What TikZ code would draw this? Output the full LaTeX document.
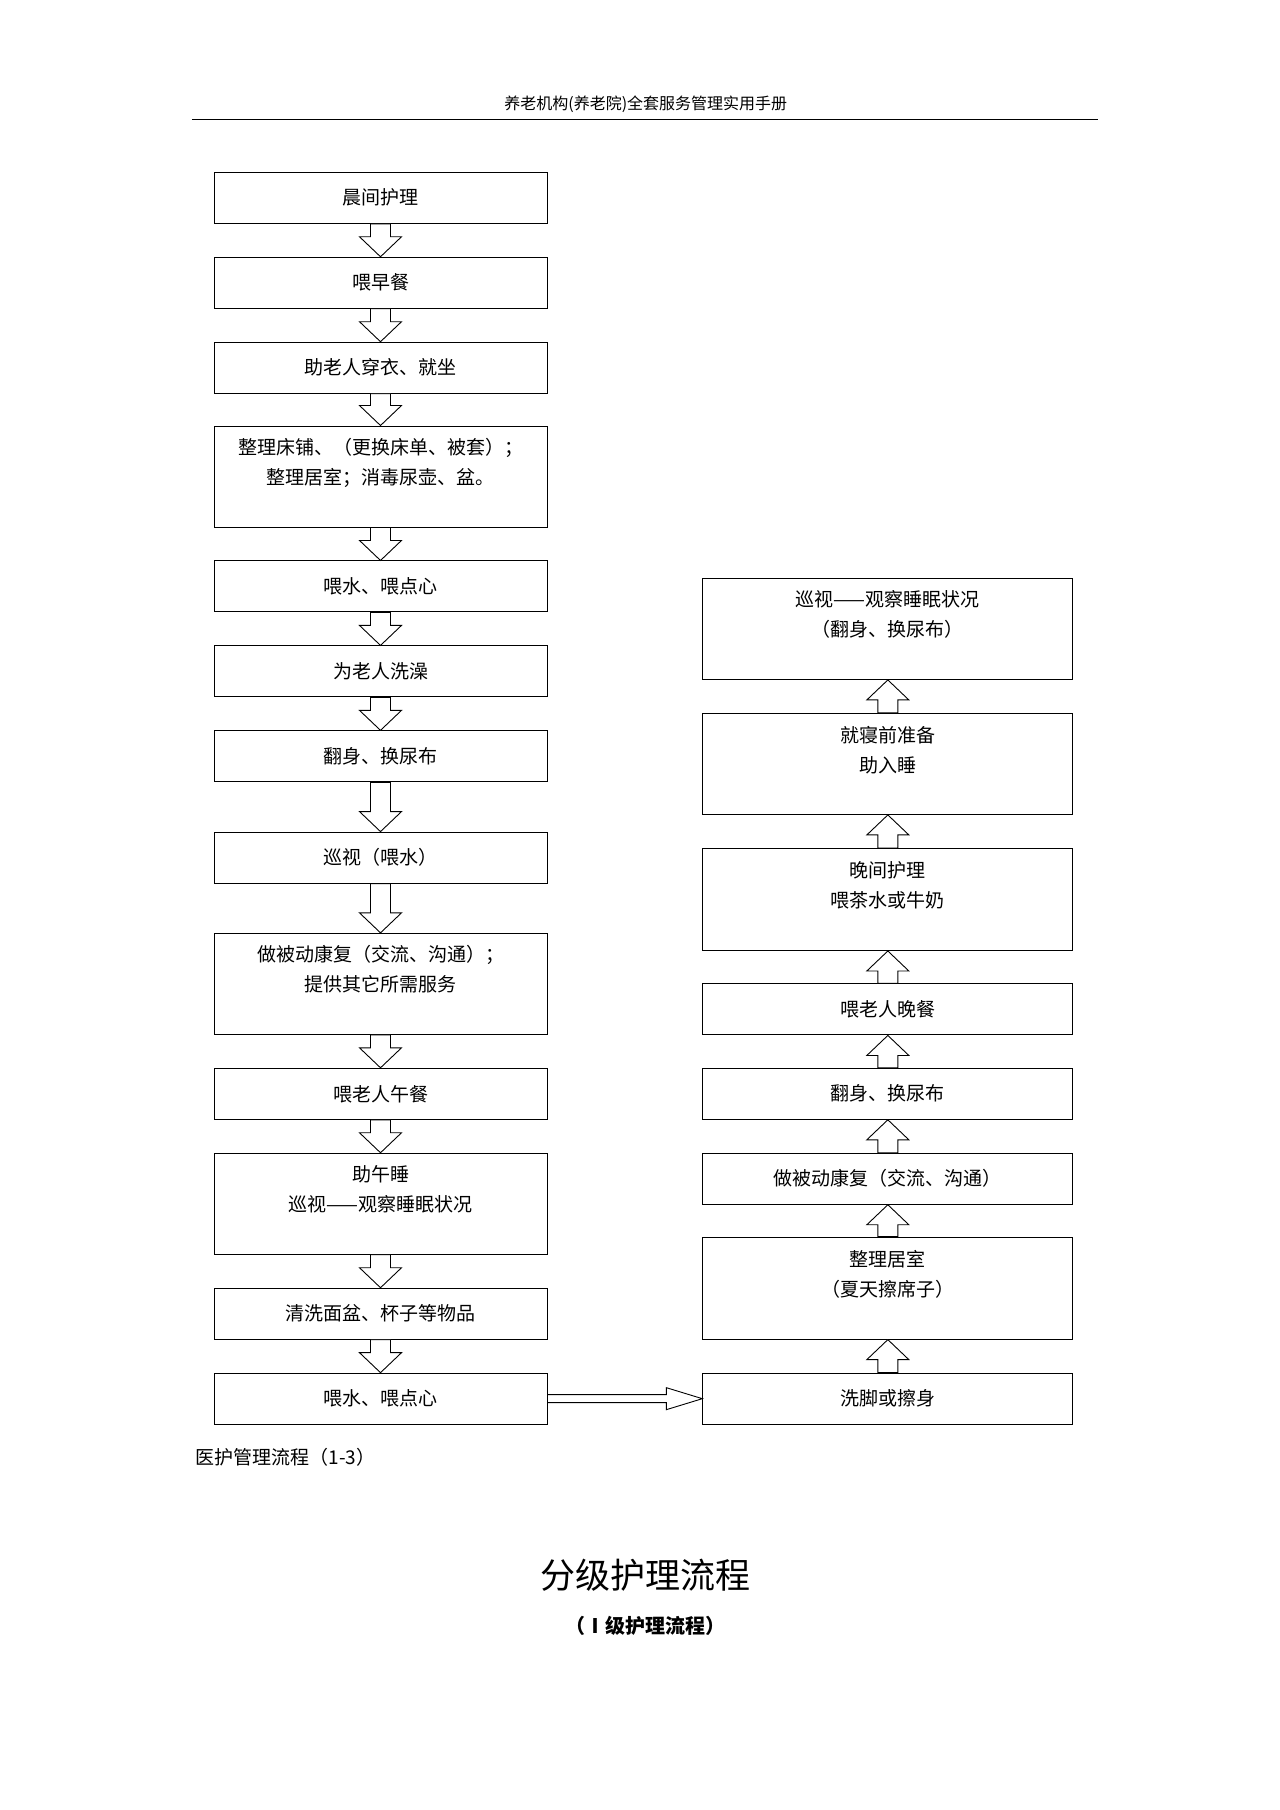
\documentclass[tikz,border=0pt]{standalone}
\usepackage{fontspec}
\setmainfont{Noto Sans CJK SC}
\usetikzlibrary{calc}
\tikzset{box/.style={draw,line width=1pt,align=center,font=\fontsize{19}{30}\selectfont,inner sep=0pt},
 lb/.style={box,minimum width=333pt},rb/.style={box,minimum width=370pt},
 hol/.style={draw,line width=0.9pt,fill=white}}
\newcommand\harrowd[2]{\draw[hol] let \p1=(#1.south),\p2=(#2.north) in
 (\x1-10pt,\y1)--(\x1+10pt,\y1)--(\x1+10pt,\y2+20pt)--(\x1+21pt,\y2+20pt)--(\x1,\y2)--(\x1-21pt,\y2+20pt)--(\x1-10pt,\y2+20pt)--cycle;}
\newcommand\harrowu[2]{\draw[hol] let \p1=(#1.north),\p2=(#2.south) in
 (\x1-10pt,\y1)--(\x1+10pt,\y1)--(\x1+10pt,\y2-20pt)--(\x1+21pt,\y2-20pt)--(\x1,\y2)--(\x1-21pt,\y2-20pt)--(\x1-10pt,\y2-20pt)--cycle;}
\begin{document}
\begin{tikzpicture}[x=1.1636pt,y=-1.1636pt]
\useasboundingbox (0,0) rectangle (1100,1555.5);
\node[font=\fontsize{16}{18}\selectfont] (hd) at (555,90) {养老机构(养老院)全套服务管理实用手册};
\draw[line width=1pt] (165,103) -- (944,103);
\def\L{327}\def\R{763}
\node[lb,minimum height=51pt] (l1) at (\L,170) {晨间护理};
\node[lb,minimum height=51pt] (l2) at (\L,243) {喂早餐};
\node[lb,minimum height=51pt] (l3) at (\L,316) {助老人穿衣、就坐};
\node[lb,minimum height=101pt,text depth=30pt] (l4) at (\L,409.5) {整理床铺、（更换床单、被套）；\\整理居室；消毒尿壶、盆。};
\node[lb,minimum height=51pt] (l5) at (\L,504) {喂水、喂点心};
\node[lb,minimum height=51pt] (l6) at (\L,577) {为老人洗澡};
\node[lb,minimum height=51pt] (l7) at (\L,650) {翻身、换尿布};
\node[lb,minimum height=51pt] (l8) at (\L,737) {巡视（喂水）};
\node[lb,minimum height=101pt,text depth=30pt] (l9) at (\L,845.5) {做被动康复（交流、沟通）；\\提供其它所需服务};
\node[lb,minimum height=51pt] (l10) at (\L,940) {喂老人午餐};
\node[lb,minimum height=101pt,text depth=30pt] (l11) at (\L,1034.5) {助午睡\\巡视——观察睡眠状况};
\node[lb,minimum height=51pt] (l12) at (\L,1129) {清洗面盆、杯子等物品};
\node[lb,minimum height=51pt] (l13) at (\L,1202) {喂水、喂点心};
\node[rb,minimum height=51pt] (r1) at (\R,1202) {洗脚或擦身};
\node[rb,minimum height=102pt,text depth=30pt] (r2) at (\R,1107) {整理居室\\（夏天擦席子）};
\node[rb,minimum height=51pt] (r3) at (\R,1013) {做被动康复（交流、沟通）};
\node[rb,minimum height=51pt] (r4) at (\R,940) {翻身、换尿布};
\node[rb,minimum height=51pt] (r5) at (\R,867.5) {喂老人晚餐};
\node[rb,minimum height=102pt,text depth=30pt] (r6) at (\R,773) {晚间护理\\喂茶水或牛奶};
\node[rb,minimum height=101pt,text depth=30pt] (r7) at (\R,656.5) {就寝前准备\\助入睡};
\node[rb,minimum height=101pt,text depth=30pt] (r8) at (\R,540.5) {巡视——观察睡眠状况\\（翻身、换尿布）};
\foreach \a/\b in {l1/l2,l2/l3,l3/l4,l4/l5,l5/l6,l6/l7,l7/l8,l8/l9,l9/l10,l10/l11,l11/l12,l12/l13}{\harrowd{\a}{\b}}
\foreach \a/\b in {r1/r2,r2/r3,r3/r4,r4/r5,r5/r6,r6/r7,r7/r8}{\harrowu{\a}{\b}}
\draw[hol] let \p1=(l13.east),\p2=(r1.west) in
 (\x1,\y1+4pt)--(\x2-36pt,\y1+4pt)--(\x2-36pt,\y1+11pt)--(\x2,\y1)--(\x2-36pt,\y1-11pt)--(\x2-36pt,\y1-4pt)--(\x1,\y1-4pt)--cycle;
\node[anchor=west,font=\fontsize{19}{22}\selectfont] (cap) at (165,1252) {医护管理流程（1-3）};
\node[font=\fontsize{35}{40}\selectfont] (ti) at (555,1354) {分级护理流程};
\node[font=\bfseries\fontsize{20}{24}\selectfont] (st) at (555,1397) {（Ⅰ级护理流程）};
\end{tikzpicture}
\end{document}
